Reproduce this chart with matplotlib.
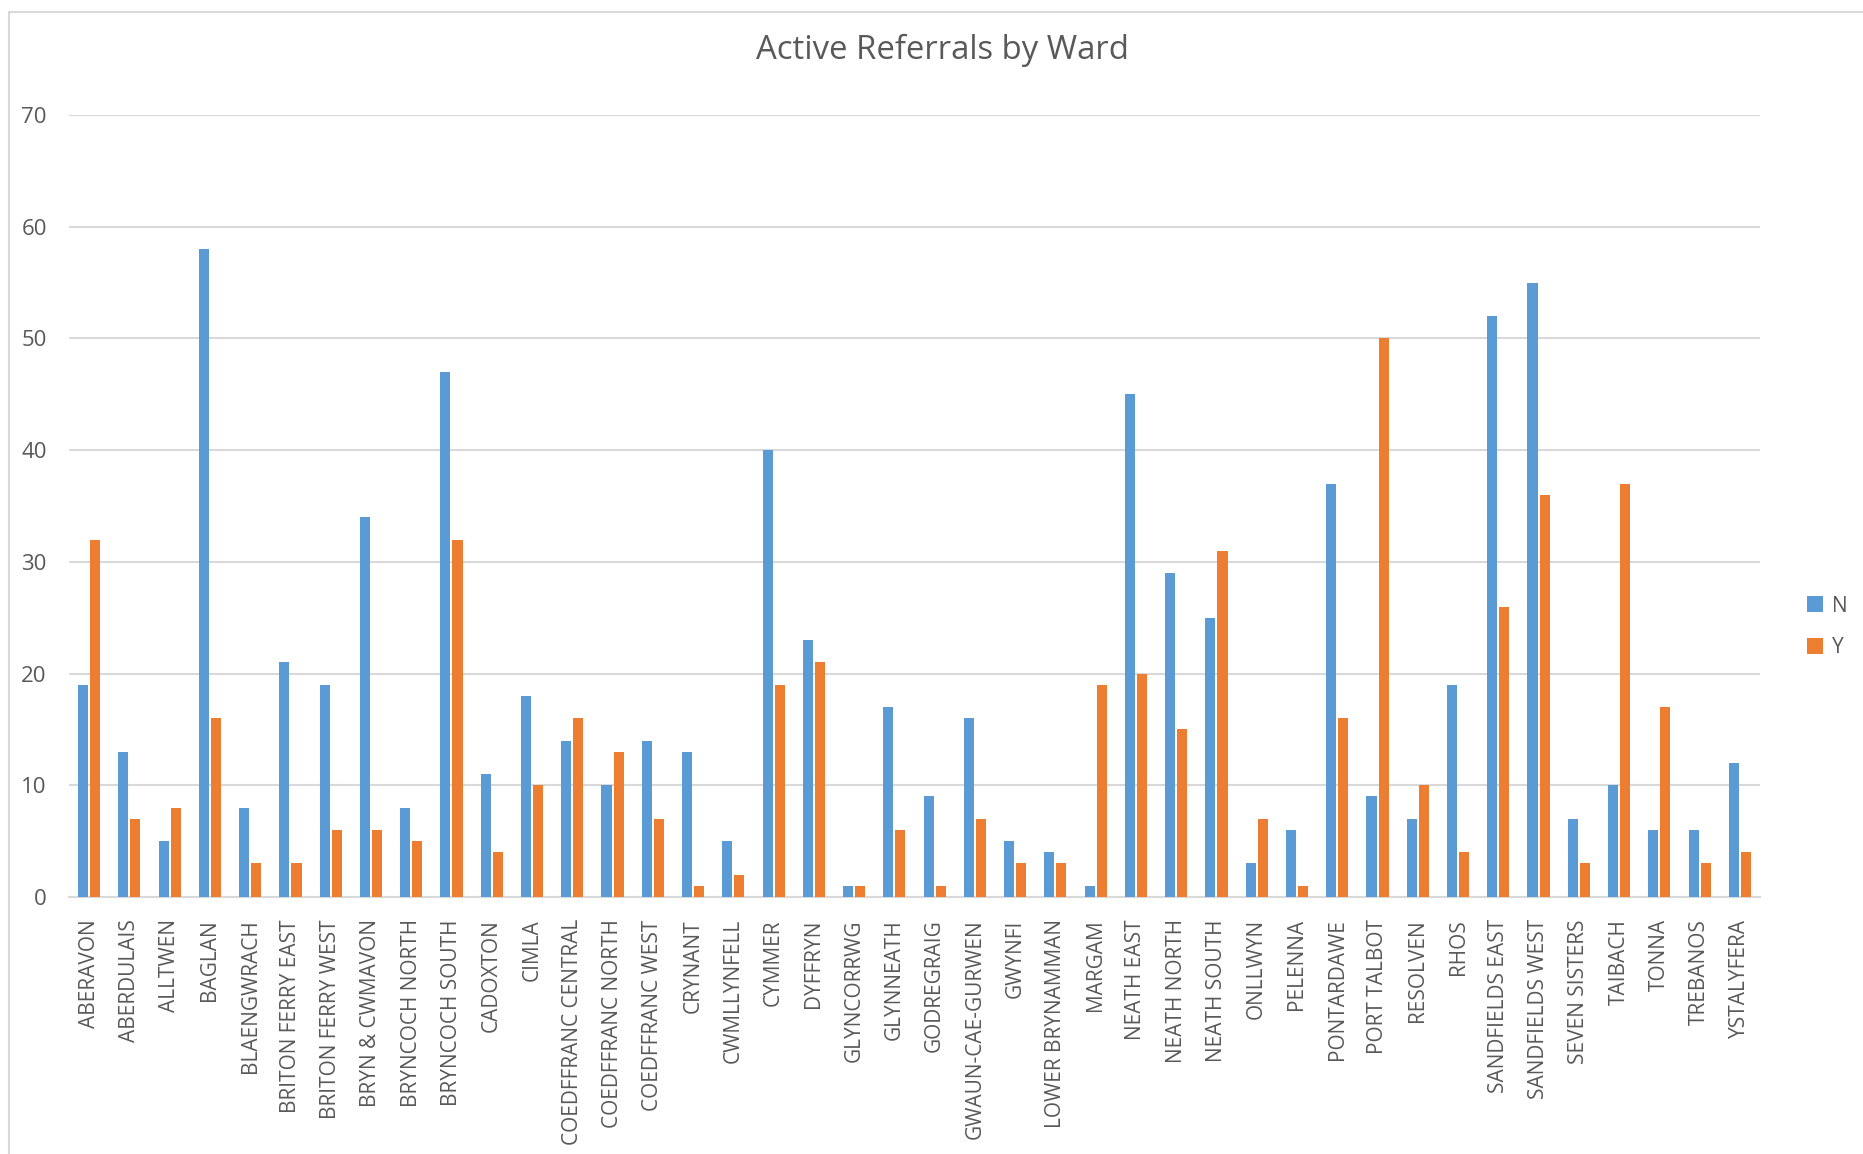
"""Active referrals by ward - clustered column chart (Excel style)."""
import matplotlib
matplotlib.use('Agg')
import matplotlib.pyplot as plt
from matplotlib.patches import Rectangle
import numpy as np

plt.rcParams['font.family'] = ['Open Sans', 'DejaVu Sans']

# ─── Data ───
wards = ['ABERAVON', 'ABERDULAIS', 'ALLTWEN', 'BAGLAN', 'BLAENGWRACH',
         'BRITON FERRY EAST', 'BRITON FERRY WEST', 'BRYN & CWMAVON',
         'BRYNCOCH NORTH', 'BRYNCOCH SOUTH', 'CADOXTON', 'CIMLA',
         'COEDFFRANC CENTRAL', 'COEDFFRANC NORTH', 'COEDFFRANC WEST',
         'CRYNANT', 'CWMLLYNFELL', 'CYMMER', 'DYFFRYN', 'GLYNCORRWG',
         'GLYNNEATH', 'GODREGRAIG', 'GWAUN-CAE-GURWEN', 'GWYNFI',
         'LOWER BRYNAMMAN', 'MARGAM', 'NEATH EAST', 'NEATH NORTH',
         'NEATH SOUTH', 'ONLLWYN', 'PELENNA', 'PONTARDAWE', 'PORT TALBOT',
         'RESOLVEN', 'RHOS', 'SANDFIELDS EAST', 'SANDFIELDS WEST',
         'SEVEN SISTERS', 'TAIBACH', 'TONNA', 'TREBANOS', 'YSTALYFERA']
n_vals = [19, 13, 5, 58, 8, 21, 19, 34, 8, 47, 11, 18, 14, 10, 14, 13, 5, 40,
          23, 1, 17, 9, 16, 5, 4, 1, 45, 29, 25, 3, 6, 37, 9, 7, 19, 52, 55,
          7, 10, 6, 6, 12]
y_vals = [32, 7, 8, 16, 3, 3, 6, 6, 5, 32, 4, 10, 16, 13, 7, 1, 2, 19, 21, 1,
          6, 1, 7, 3, 3, 19, 20, 15, 31, 7, 1, 16, 50, 10, 4, 26, 36, 3, 37,
          17, 3, 4]
series_names = ['N', 'Y']
yticks = [0, 10, 20, 30, 40, 50, 60, 70]

# ─── Style ───
BLUE = '#5B9BD5'
ORANGE = '#ED7D31'
TEXT = '#595959'
GRID = '#D9D9D9'

fig = plt.figure(figsize=(18.63, 11.54), dpi=100)
fig.patches.append(Rectangle((9 / 1863, -0.01), 2, 1 - 12 / 1154 + 0.01,
                             transform=fig.transFigure, fill=False,
                             edgecolor=GRID, linewidth=1.5))
ax = fig.add_axes([69 / 1863, 1 - 897 / 1154, (1760 - 69) / 1863, (897 - 115) / 1154])

x = np.arange(len(wards))
w = 0.25
ax.bar(x - 0.15, n_vals, w, color=BLUE, label=series_names[0], zorder=3)
ax.bar(x + 0.15, y_vals, w, color=ORANGE, label=series_names[1], zorder=3)

ax.set_xlim(-0.5, len(wards) - 0.5)
ax.set_ylim(0, 70)
ax.set_yticks(yticks)
ax.set_yticklabels([str(t) for t in yticks])
ax.set_xticks(x)
ax.set_xticklabels(wards, rotation=90)
ax.tick_params(axis='y', length=0, pad=16, labelsize=16, labelcolor=TEXT)
ax.tick_params(axis='x', length=0, pad=16, labelsize=15, labelcolor=TEXT)
ax.grid(axis='y', color=GRID, linewidth=1.5, zorder=0)
for side in ['top', 'right', 'left']:
    ax.spines[side].set_visible(False)
ax.spines['bottom'].set_color(GRID)
ax.spines['bottom'].set_linewidth(1.5)
ax.set_axisbelow(True)

fig.text(943 / 1863, 1 - 50 / 1154, 'Active Referrals by Ward', ha='center', va='center',
         fontsize=23.7, color=TEXT)

ax.legend(loc='center left', bbox_to_anchor=(1788 / 1863, 1 - 627 / 1154),
          bbox_transform=fig.transFigure, frameon=False, fontsize=15,
          labelcolor=TEXT, handlelength=0.8, handleheight=0.8,
          handletextpad=0.4, labelspacing=1.0)

fig.savefig('out.png', dpi=100, facecolor='white')
